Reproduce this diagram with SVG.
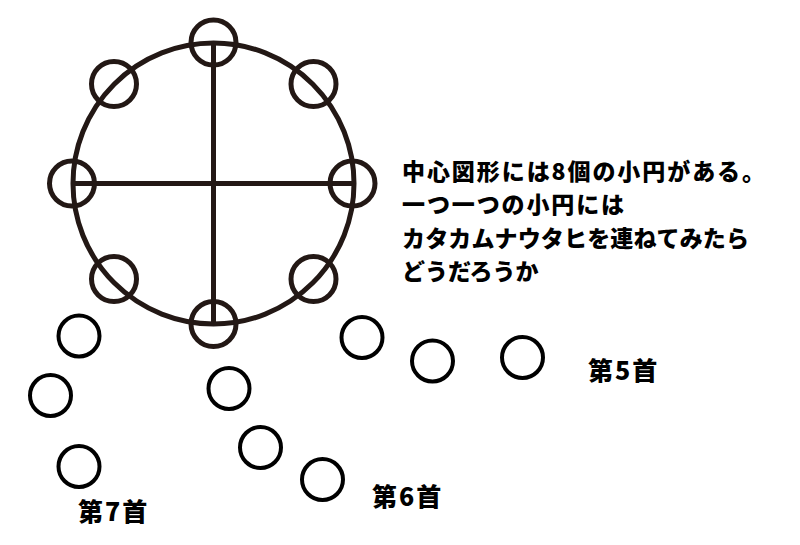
<svg xmlns="http://www.w3.org/2000/svg" width="800" height="545" viewBox="0 0 800 545">
<style>
.fig{fill:none;stroke:#231815;stroke-width:5}
.bead{fill:none;stroke:#000;stroke-width:4}
.txt{font-family:"Noto Sans CJK JP","Noto Sans",sans-serif;font-weight:900;fill:#000}
.main{font-size:23px}
.lbl{font-size:25px;letter-spacing:2px}
</style>
<rect width="800" height="545" fill="#fff"/>
<g id="center-figure">
<circle class="fig" cx="213.5" cy="183.5" r="140.5"/>
<g id="connectors">
<line class="fig" x1="213.5" y1="45" x2="213.5" y2="322"/>
<line class="fig" x1="75" y1="183.5" x2="352" y2="183.5"/>
</g>
<circle class="fig" cx="213.5" cy="42.5" r="22.5"/>
<circle class="fig" cx="313.5" cy="84" r="22.5"/>
<circle class="fig" cx="352.5" cy="183.5" r="22.5"/>
<circle class="fig" cx="313.5" cy="279" r="22.5"/>
<circle class="fig" cx="213.5" cy="324" r="22.5"/>
<circle class="fig" cx="114" cy="279" r="22.5"/>
<circle class="fig" cx="72" cy="183.5" r="22.5"/>
<circle class="fig" cx="114" cy="84" r="22.5"/>
</g>
<g id="poem7">
<circle class="bead" cx="79" cy="336" r="20.5"/>
<circle class="bead" cx="50.5" cy="395.5" r="20.5"/>
<circle class="bead" cx="79" cy="466.5" r="20.5"/>
<text class="txt lbl" x="78" y="521">第7首</text>
</g>
<g id="poem6">
<circle class="bead" cx="229" cy="388.5" r="20.5"/>
<circle class="bead" cx="260.5" cy="447.5" r="20.5"/>
<circle class="bead" cx="322.5" cy="479.5" r="20.5"/>
<text class="txt lbl" x="372" y="506">第6首</text>
</g>
<g id="poem5">
<circle class="bead" cx="362" cy="337.5" r="20.5"/>
<circle class="bead" cx="432.5" cy="361" r="20.5"/>
<circle class="bead" cx="522.5" cy="357.5" r="20.5"/>
<text class="txt lbl" x="588" y="380">第5首</text>
</g>
<g id="caption">
<text class="txt main" x="402" y="180" textLength="363" lengthAdjust="spacing">中心図形には8個の小円がある。</text>
<text class="txt main" x="402" y="213" textLength="222" lengthAdjust="spacing">一つ一つの小円には</text>
<text class="txt main" x="402" y="247" textLength="347" lengthAdjust="spacing">カタカムナウタヒを連ねてみたら</text>
<text class="txt main" x="402" y="280">どうだろうか</text>
</g>
</svg>
